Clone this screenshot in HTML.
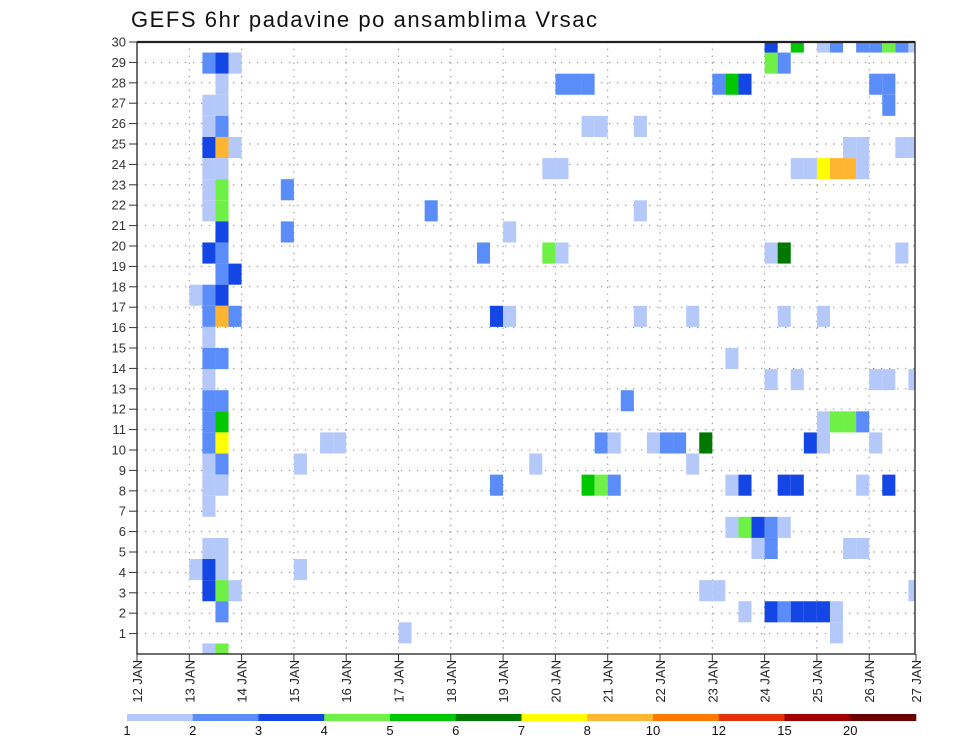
<!DOCTYPE html>
<html><head><meta charset="utf-8"><style>
html,body{margin:0;padding:0;background:#fff;}
svg{display:block;font-family:"Liberation Sans",sans-serif;}
</style></head><body>
<svg id="chart" width="960" height="742" viewBox="0 0 960 742" xmlns="http://www.w3.org/2000/svg">
<rect width="960" height="742" fill="#fff"/>
<text x="131" y="27" font-size="22" fill="#111" textLength="466" lengthAdjust="spacing">GEFS 6hr padavine po ansamblima Vrsac</text>
<g id="grid"></g>
<g id="cells"></g>
<g id="axes"></g>
<g id="cbar"></g>
</svg>
<script>
// 6-hour step index since 12 JAN 00z, ensemble member, precipitation value (mm)
const cellStep   = [5,6,7, 6, 5,6, 5,6, 5,6,7, 5,6, 5,6,11, 5,6,22,38, 6,11,28, 5,6,26,31,32,48,49,58, 6,7, 4,5,6, 5,6,7,27,28,38,42,49,52, 5, 5,6,45, 5,48,50,56,57,59, 5,6,37, 5,6,52,53,54,55, 5,6,14,15,35,36,39,40,41,43,51,52,56, 5,6,12,30,42, 5,6,27,34,35,36,45,46,49,50,55,57, 5, 45,46,47,48,49, 5,6,47,48,54,55, 4,5,6,12, 5,6,7,43,44,59, 6,46,48,49,50,51,52,53, 20,53, 5,6, 32,33,34,44,45,46,56,57, 34,35,38, 31,32,50,51,52,53,54,55, 54,55,58,59, 57, 48,49, 48,50,52,53,55,56,57,58,59];
const cellMember = [29,29,29, 28, 27,27, 26,26, 25,25,25, 24,24, 23,23,23, 22,22,22,22, 21,21,21, 20,20,20,20,20,20,20,20, 19,19, 18,18,18, 17,17,17,17,17,17,17,17,17, 16, 15,15,15, 14,14,14,14,14,14, 13,13,13, 12,12,12,12,12,12, 11,11,11,11,11,11,11,11,11,11,11,11,11, 10,10,10,10,10, 9,9,9,9,9,9,9,9,9,9,9,9, 8, 7,7,7,7,7, 6,6,6,6,6,6, 5,5,5,5, 4,4,4,4,4,4, 3,3,3,3,3,3,3,3, 2,2, 1,1, 28,28,28,28,28,28,28,28, 26,26,26, 24,24,24,24,24,24,24,24, 25,25,25,25, 27, 29,29, 30,30,30,30,30,30,30,30,30];
const cellValue  = [2.5,3.5,1.5, 1.5, 1.5,1.5, 1.5,2.5, 3.5,9,1.5, 1.5,1.5, 1.5,4.5,2.5, 1.5,4.5,2.5,1.5, 3.5,2.5,1.5, 3.5,2.5,2.5,4.5,1.5,1.5,6.5,1.5, 2.5,3.5, 1.5,2.5,3.5, 2.5,9,2.5,3.5,1.5,1.5,1.5,1.5,1.5, 1.5, 2.5,2.5,1.5, 1.5,1.5,1.5,1.5,1.5,1.5, 2.5,2.5,2.5, 2.5,5.5,1.5,4.5,4.5,2.5, 2.5,7.5,1.5,1.5,2.5,1.5,1.5,2.5,2.5,6.5,3.5,1.5,1.5, 1.5,2.5,1.5,1.5,1.5, 1.5,1.5,2.5,5.5,4.5,2.5,1.5,3.5,3.5,3.5,1.5,3.5, 1.5, 1.5,4.5,3.5,2.5,1.5, 1.5,1.5,1.5,2.5,1.5,1.5, 1.5,3.5,1.5,1.5, 3.5,4.5,1.5,1.5,1.5,1.5, 2.5,1.5,3.5,2.5,3.5,3.5,3.5,1.5, 1.5,1.5, 1.5,4.5, 2.5,2.5,2.5,2.5,5.5,3.5,2.5,2.5, 1.5,1.5,1.5, 1.5,1.5,1.5,1.5,7.5,9,9,1.5, 1.5,1.5,1.5,1.5, 2.5, 4.5,2.5, 3.5,5.5,1.5,2.5,2.5,2.5,4.5,2.5,1.5];
const levels = [1,2,3,4,5,6,7,8,10,12,15,20];
const levelColors = ["#b4c8fa","#5a8cfa","#1446e6","#6ef046","#00c800","#007800","#ffff00","#ffb432","#ff7800","#e6320a","#a00000","#6e0000"];
const dayLabels = ["12 JAN","13 JAN","14 JAN","15 JAN","16 JAN","17 JAN","18 JAN","19 JAN","20 JAN","21 JAN","22 JAN","23 JAN","24 JAN","25 JAN","26 JAN","27 JAN"];
const yTicks = [1,2,3,4,5,6,7,8,9,10,11,12,13,14,15,16,17,18,19,20,21,22,23,24,25,26,27,28,29,30];

const NS="http://www.w3.org/2000/svg";
const L=137,R=915,T=42,B=654;
const dayW=52.3, stepW=dayW/4, memH=(B-T)/29;
const xStep=s=>L+s*stepW;
const yMem=m=>B-(m-1)*memH;
const yTick=v=>B-v*(B-T)/30;
function mk(tag,attrs,parent){const e=document.createElementNS(NS,tag);for(const k in attrs)e.setAttribute(k,attrs[k]);parent.appendChild(e);return e;}
function colorFor(v){let i=0;for(let k=0;k<levels.length;k++){if(v>=levels[k])i=k;}return levelColors[i];}

const grid=document.getElementById('grid');
yTicks.forEach(v=>{const y=yTick(v);
  const ln=mk('line',{x1:L,x2:R,y1:y,y2:y,stroke:'#888','stroke-width':1,'stroke-dasharray':'1.3 6.7'},grid);
  
  
});
dayLabels.forEach((d,i)=>{const x=L+i*dayW; if(x>R-1||i===0)return;
  const ln=mk('line',{x1:x,x2:x,y1:T,y2:B,stroke:'#888','stroke-width':1,'stroke-dasharray':'1.3 5.5'},grid);
  
  
});

const cells=document.getElementById('cells');
for(let i=0;i<cellStep.length;i++){
  const x=xStep(cellStep[i]);
  const x1=Math.min(x+stepW,R);
  let y0=yMem(cellMember[i])-memH/2, y1=y0+memH;
  y0=Math.max(y0,T); y1=Math.min(y1,B);
  if(x1<=x)continue;
  const r=mk('rect',{x:x.toFixed(2),y:y0.toFixed(2),width:(x1-x).toFixed(2),height:(y1-y0).toFixed(2),fill:colorFor(cellValue[i])},cells);
  
  
}

const axes=document.getElementById('axes');
const frame=mk('rect',{x:L,y:T,width:R-L,height:B-T,fill:'none',stroke:'#222','stroke-width':1.3},axes);


const topLine=mk('line',{x1:L,x2:R,y1:T,y2:T,stroke:'#222','stroke-width':2.2},axes);


yTicks.forEach(v=>{const y=yTick(v);
  const t=mk('line',{x1:L-8,x2:L,y1:y,y2:y,stroke:'#333','stroke-width':1},axes);
  
  
  const tx=mk('text',{x:L-11,y:y+4.5,'font-size':13,'text-anchor':'end',fill:'#333'},axes);
  tx.textContent=v;
  
  
});
dayLabels.forEach((d,i)=>{const x=Math.min(L+i*dayW,R+1);
  const t=mk('line',{x1:x,x2:x,y1:B,y2:B+8,stroke:'#333','stroke-width':1},axes);
  
  
  const tx=mk('text',{x:0,y:0,'font-size':13,'text-anchor':'end',fill:'#222',transform:`translate(${x+5},${B+6}) rotate(-90)`},axes);
  tx.textContent=d;
  
  
});

const cbar=document.getElementById('cbar');
const cbL=127,cbR=916,segW=(cbR-cbL)/levels.length;
levels.forEach((lv,i)=>{
  const r=mk('rect',{x:(cbL+i*segW).toFixed(2),y:714,width:(segW+0.3).toFixed(2),height:7,fill:levelColors[i]},cbar);
  
  
  const tx=mk('text',{x:(cbL+i*segW).toFixed(2),y:735,'font-size':13,'text-anchor':'middle',fill:'#111'},cbar);
  tx.textContent=lv;
  
  
});
</script>
</body></html>
